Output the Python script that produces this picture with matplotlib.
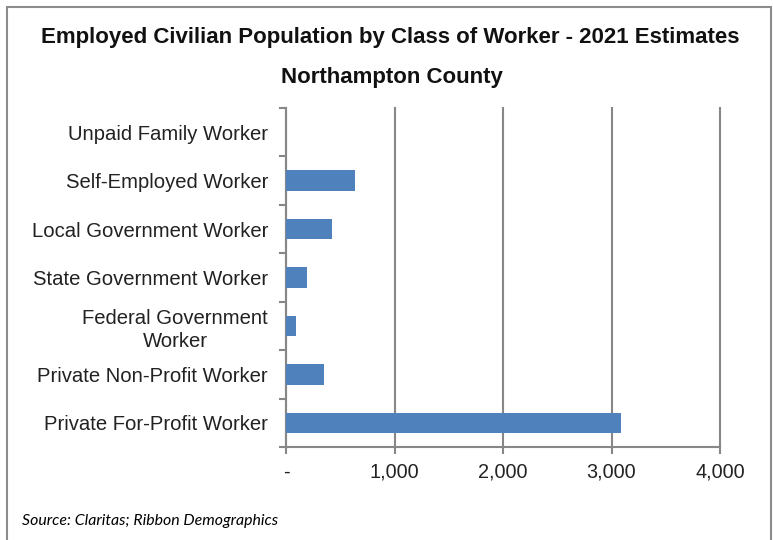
import numpy as np
import matplotlib.pyplot as plt
from matplotlib.patches import Rectangle
from matplotlib.ticker import FixedLocator

plt.rcParams["font.family"] = ["Liberation Sans", "DejaVu Sans"]

# 各类别从顶部到底部
categories = [
    "Unpaid Family Worker",
    "Self-Employed Worker",
    "Local Government Worker",
    "State Government Worker",
    "Federal Government\nWorker",
    "Private Non-Profit Worker",
    "Private For-Profit Worker",
]
workers = [0, 633, 424, 191, 89, 353, 3085]
x_ticks = [0, 1000, 2000, 3000, 4000]
x_tick_labels = ["-", "1,000", "2,000", "3,000", "4,000"]

W, H = 773, 540
fig = plt.figure(figsize=(W / 100, H / 100), dpi=100)

# 绘图区域 (像素)
left, right, top, bottom = 286, 720, 108, 447
ax = fig.add_axes([left / W, 1 - bottom / H, (right - left) / W, (bottom - top) / H])

grid_color = "#878787"
y = np.arange(len(categories))
ax.barh(y, workers, height=0.42, color="#4F81BD", zorder=3)
ax.set_ylim(len(categories) - 0.5, -0.5)
ax.set_xlim(0, 4000)

ax.set_yticks(y)
ax.set_yticklabels(categories, fontsize=14.6, color="#222222", linespacing=1.25)
ax.yaxis.set_minor_locator(FixedLocator(np.arange(-0.5, len(categories), 1)))
ax.tick_params(axis="y", which="major", length=0, pad=13)
ax.tick_params(axis="y", which="minor", length=5, width=1.5, color=grid_color)
for lab in ax.get_yticklabels():
    lab.set_horizontalalignment("right")
    lab.set_multialignment("center")

ax.set_xticks(x_ticks)
ax.set_xticklabels(x_tick_labels, fontsize=14.3, color="#222222")
ax.tick_params(axis="x", length=5, width=1.5, color=grid_color, pad=6)
ax.grid(axis="x", color=grid_color, linewidth=1.5, zorder=0)
for gl in ax.get_xgridlines():
    gl.set_clip_on(False)

for side in ["top", "right"]:
    ax.spines[side].set_visible(False)
for side in ["left", "bottom"]:
    ax.spines[side].set_color(grid_color)
    ax.spines[side].set_linewidth(1.5)

# 标题
fig.text(390 / W, 1 - 38 / H, "Employed Civilian Population by Class of Worker - 2021 Estimates",
         ha="center", va="center", fontsize=16, fontweight="bold", color="#111111")
fig.text(392 / W, 1 - 77 / H, "Northampton County",
         ha="center", va="center", fontsize=16, fontweight="bold", color="#111111")

# 数据来源
fig.text(22 / W, 1 - 521 / H, "Source: Claritas; Ribbon Demographics",
         ha="left", va="center", fontsize=11.4, style="italic", family=["Lato", "DejaVu Sans"])

# 外框
fig.patches.append(Rectangle((7 / W, -0.05), (771 - 7) / W, 1.05 - 7 / H,
                             transform=fig.transFigure, fill=False,
                             edgecolor="#8c8c8c", linewidth=1.5))

fig.savefig("out.png", dpi=100)
